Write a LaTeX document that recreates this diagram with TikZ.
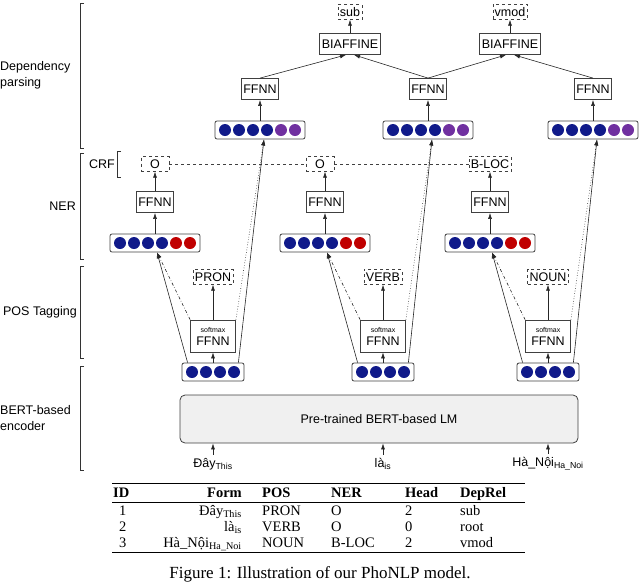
\documentclass[tikz,border=0pt]{standalone}
\usepackage{fontspec}
\setmainfont{Liberation Sans}
\newfontfamily\serif{Liberation Serif}
\usetikzlibrary{arrows.meta}
\definecolor{dblue}{HTML}{101A8A}
\definecolor{dred}{HTML}{C00000}
\definecolor{dpurple}{HTML}{7030A0}
\tikzset{
 box/.style={draw=black!75,thick,fill=white,inner sep=2pt,minimum height=21pt,font=\fontsize{12.5}{13}\selectfont},
 lab/.style={draw=black!75,dashed,inner sep=2pt,minimum height=15pt,font=\fontsize{12.5}{13}\selectfont},
 vecbox/.style={draw=black!75,thick,rounded corners=2pt,minimum height=18pt,inner sep=0pt},
 arr/.style={-{Latex[length=6pt,width=4pt]},black!85,semithick},
 dd/.style={arr,dash dot},
 dt/.style={arr,dotted},
 side/.style={font=\fontsize{12.5}{16}\selectfont,align=left},
 brk/.style={black!80,semithick},
 tb/.style={font=\serif\fontsize{14.5}{15}\selectfont,inner sep=0pt,anchor=base west},
}
\newcommand\vecn[5]{% name x y n colours
 \node[vecbox,minimum width={14*#4+6}] (#1) at (#2,#3) {};
 \foreach \c [count=\i] in {#5} {\fill[\c] ({#2-7*#4+7+14*(\i-1)},#3) circle (6);}
}
\begin{document}
\begin{tikzpicture}[x=1pt,y=-1pt]
\useasboundingbox (0,0) rectangle (640,587);
% side labels
\node[side,anchor=west,inner sep=0pt] (ldp) at (0,75) {Dependency\\parsing};
\node[side,anchor=east,inner sep=1pt] (lner) at (77,206) {NER};
\node[side,anchor=east,inner sep=1pt] (lpos) at (78,312) {POS Tagging};
\node[side,anchor=west,inner sep=0pt] (lbert) at (0,418) {BERT-based\\encoder};
\draw[brk] (84,3)--(80,3)--(80,148)--(84,148);
\draw[brk] (84,153)--(80,153)--(80,259)--(84,259);
\draw[brk] (84,266)--(80,266)--(80,358)--(84,358);
\draw[brk] (84,366)--(80,366)--(80,470)--(84,470);
\node[side,anchor=east,inner sep=1pt] (lcrf) at (116,164) {CRF};
\draw[brk] (121,151)--(117,151)--(117,177)--(121,177);
% BERT
\node[draw=black!75,thick,fill=black!6,rounded corners=5pt,minimum width=398pt,minimum height=48pt,font=\fontsize{12.5}{13}\selectfont] (bert) at (379,419) {Pre-trained BERT-based LM};
% tokens
\node[font=\fontsize{12.5}{13}\selectfont] (t1) at (213,464) {Đây\textsubscript{This}};
\node[font=\fontsize{12.5}{13}\selectfont] (t2) at (383,464) {là\textsubscript{is}};
\node[font=\fontsize{12.5}{13}\selectfont] (t3) at (548,464) {Hà\_Nội\textsubscript{Ha\_Noi}};
\foreach \c/\x in {1/213,2/383,3/548}{
 \vecn{B\c}{\x}{372}{4}{dblue,dblue,dblue,dblue}
 \node[box,minimum width=45pt,minimum height=32pt,align=center,inner sep=1pt] (S\c) at (\x,336) {{\fontsize{7}{7}\selectfont softmax}\\FFNN};
 \draw[arr] (t\c.north) -- (bert.south -| t\c);
 \draw[arr] (B\c) -- (S\c);
}
\node[lab] (P1) at (213,277) {PRON};
\node[lab] (P2) at (383,277) {VERB};
\node[lab] (P3) at (548,277) {NOUN};
\node[lab,minimum width=28pt] (O1) at (155,164) {O};
\node[lab,minimum width=28pt] (O2) at (320,164) {O};
\node[lab] (O3) at (490,164) {B-LOC};
\draw[black!75,dashed] (O1)--(O2)--(O3);
\foreach \c/\n/\d in {1/155/260,2/325/428,3/490/593}{
 \vecn{N\c}{\n}{243}{6}{dblue,dblue,dblue,dblue,dred,dred}
 \node[box] (F\c) at (\n,202) {FFNN};
 \draw[arr] (N\c) -- (F\c);
 \draw[arr] (F\c) -- (F\c |- O\c.south);
 \vecn{D\c}{\d}{130}{6}{dblue,dblue,dblue,dblue,dpurple,dpurple}
 \node[box] (G\c) at (\d,89) {FFNN};
 \draw[arr] (D\c) -- (G\c);
 \draw[arr] (S\c) -- (P\c);
 \draw[arr] ([xshift=6pt]B\c.north west) -- ([xshift=2pt]N\c.south);
 \draw[dd] (S\c.north west) -- ([xshift=2pt]N\c.south);
 \draw[dt] (S\c.north east) -- ([xshift=4pt]D\c.south);
 \draw[arr] ([xshift=-6pt]B\c.north east) -- ([xshift=4pt]D\c.south);
}
\node[box] (BA1) at (350,44) {BIAFFINE};
\node[box] (BA2) at (510,44) {BIAFFINE};
\node[lab] (L1) at (350,12) {sub};
\node[lab] (L2) at (510,12) {vmod};
\draw[arr] (BA1) -- (L1);
\draw[arr] (BA2) -- (L2);
\draw[arr] (G1.north) -- ([xshift=-4pt]BA1.south);
\draw[arr] (G2.north) -- ([xshift=4pt]BA1.south);
\draw[arr] (G2.north) -- ([xshift=-4pt]BA2.south);
\draw[arr] (G3.north) -- ([xshift=4pt]BA2.south);
% table
\draw[thick] (112,483)--(525,483);
\draw[semithick] (112,502)--(525,502);
\draw[thick] (112,552)--(525,552);
\begin{scope}[every node/.style={tb}]
\node (h1) at (113,497) {\bfseries ID};
\node[anchor=base east] (h2) at (242,497) {\bfseries Form};
\node (h3) at (262,497) {\bfseries POS};
\node (h4) at (331,497) {\bfseries NER};
\node (h5) at (405,497) {\bfseries Head};
\node (h6) at (460,497) {\bfseries DepRel};
\node (r11) at (119,515) {1};
\node[anchor=base east] (r12) at (242,515) {Đây\textsubscript{This}};
\node (r13) at (262,515) {PRON};
\node (r14) at (331,515) {O};
\node (r15) at (405,515) {2};
\node (r16) at (460,515) {sub};
\node (r21) at (119,531) {2};
\node[anchor=base east] (r22) at (242,531) {là\textsubscript{is}};
\node (r23) at (262,531) {VERB};
\node (r24) at (331,531) {O};
\node (r25) at (405,531) {0};
\node (r26) at (460,531) {root};
\node (r31) at (119,547) {3};
\node[anchor=base east] (r32) at (242,547) {Hà\_Nội\textsubscript{Ha\_Noi}};
\node (r33) at (262,547) {NOUN};
\node (r34) at (331,547) {B-LOC};
\node (r35) at (405,547) {2};
\node (r36) at (460,547) {vmod};
\end{scope}
\node[font=\serif\fontsize{17}{18}\selectfont] (cap) at (320,574) {Figure 1: Illustration of our PhoNLP model.};
\end{tikzpicture}
\end{document}
